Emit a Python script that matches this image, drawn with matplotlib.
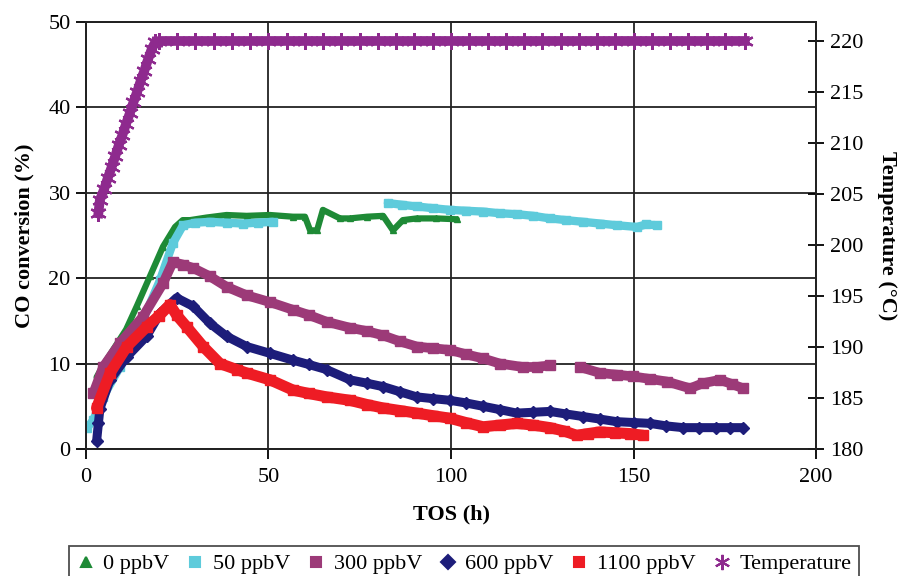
import numpy as np
import matplotlib.pyplot as plt
from matplotlib.lines import Line2D

plt.rcParams['font.family'] = ['Liberation Serif', 'DejaVu Serif']

# ---- data: TOS (h) and CO conversion (%) ----
tos_0 = [2.9, 5.0, 8.0, 11.0, 14.0, 17.5, 21.1, 24.4, 26.5, 28.5, 33.0, 38.5, 44.0, 50.4,
         56.7, 60.0, 61.4, 63.3, 64.9, 69.6, 72.3, 77.0, 81.4, 84.1, 86.8, 90.6, 96.0, 101.6]
conv_0 = [8.4, 10.0, 12.0, 14.0, 16.8, 20.2, 23.7, 26.0, 26.8, 26.8, 27.1, 27.4, 27.3, 27.4,
          27.2, 27.2, 25.6, 25.6, 28.0, 27.0, 27.0, 27.2, 27.3, 25.6, 26.8, 27.0, 27.0, 26.9]

tos_50 = [0.2, 2.0, 4.7, 9.3, 14.8, 20.3, 23.8, 26.6, 30.0, 34.0, 38.5, 43.0, 47.0, 51.2,
          np.nan,
          82.7, 86.5, 90.6, 95.0, 99.7, 104.0, 108.8, 113.5, 118.0, 122.5, 127.1, 131.5,
          136.2, 140.8, 145.4, 150.9, 153.5, 156.3]
conv_50 = [2.4, 3.4, 6.1, 9.6, 14.3, 19.8, 24.1, 26.2, 26.5, 26.6, 26.5, 26.4, 26.5, 26.6,
           np.nan,
           28.8, 28.6, 28.4, 28.2, 28.0, 27.9, 27.8, 27.6, 27.5, 27.3, 27.0, 26.8,
           26.6, 26.4, 26.2, 26.0, 26.3, 26.2]

tos_300 = [2.0, 4.7, 9.3, 15.6, 21.1, 23.8, 26.5, 29.3, 34.0, 38.5, 44.0, 50.4, 56.7, 61.0,
           65.9, 72.3, 77.0, 81.4, 86.0, 90.6, 95.0, 99.7, 104.0, 108.8, 113.4, 119.7, 123.5,
           127.1, np.nan, 135.3, 140.8, 145.5, 149.9, 154.5, 159.1, 165.5, 169.0, 173.7, 177.0, 180.0]
conv_300 = [6.5, 9.6, 12.4, 15.5, 19.4, 21.9, 21.6, 21.2, 20.2, 19.0, 18.0, 17.2, 16.3, 15.7,
            14.9, 14.2, 13.8, 13.3, 12.6, 12.0, 11.8, 11.6, 11.1, 10.6, 10.0, 9.6, 9.6,
            9.8, np.nan, 9.6, 8.9, 8.7, 8.5, 8.2, 7.9, 7.1, 7.7, 8.1, 7.6, 7.1]

tos_600 = [2.9, 3.4, 3.8, 6.6, 11.2, 16.6, 20.3, 24.8, 29.4, 34.0, 38.5, 44.0, 50.4, 56.7,
           61.0, 65.9, 72.3, 77.0, 81.4, 86.0, 90.6, 95.0, 99.7, 104.0, 108.8, 113.5, 118.0,
           122.5, 127.1, 131.5, 136.2, 140.8, 145.4, 150.0, 154.5, 159.0, 163.6, 168.0, 172.6,
           176.5, 180.0]
conv_600 = [0.9, 3.0, 4.7, 8.1, 10.8, 13.2, 15.9, 17.7, 16.7, 14.7, 13.2, 12.0, 11.2, 10.4,
            9.9, 9.3, 8.1, 7.7, 7.3, 6.7, 6.1, 5.9, 5.7, 5.4, 5.0, 4.6, 4.2,
            4.3, 4.4, 4.1, 3.8, 3.5, 3.2, 3.1, 3.0, 2.7, 2.5, 2.5, 2.5,
            2.5, 2.5]

tos_1100 = [2.9, 6.6, 11.2, 16.6, 20.0, 23.0, 24.8, 27.6, 32.1, 36.7, 41.3, 44.0, 50.4, 56.7,
            61.0, 65.9, 72.3, 77.0, 81.4, 86.0, 90.6, 95.0, 99.7, 104.0, 108.8, 113.5, 118.0,
            122.5, 127.1, 131.0, 134.4, 137.5, 140.8, 145.0, 149.0, 152.6]
conv_1100 = [4.8, 8.9, 12.0, 14.3, 15.6, 16.9, 15.7, 14.3, 12.0, 10.0, 9.3, 8.9, 8.1, 6.9,
             6.5, 6.1, 5.7, 5.2, 4.8, 4.5, 4.2, 3.9, 3.6, 3.1, 2.6, 2.8, 3.0,
             2.8, 2.5, 2.1, 1.6, 1.8, 2.0, 1.9, 1.8, 1.6]

# temperature (deg C), right axis
tos_temp = [3.4, 3.8, 5, 6, 7, 8, 9, 10, 11, 12, 13, 14, 15, 16, 17, 18, 19, 20,
            25, 30, 35, 40, 45, 50, 55, 60, 65, 70, 75, 80, 85, 90, 95, 100, 105, 110,
            115, 120, 125, 130, 135, 140, 145, 150, 155, 160, 165, 170, 175, 180.5]
temp = [203.1, 204.4, 205.5, 206.6, 207.6, 208.7, 209.8, 210.8, 211.9, 212.9, 214.0,
        215.0, 216.1, 217.1, 218.2, 219.2, 219.9, 220.0,
        220, 220, 220, 220, 220, 220, 220, 220, 220, 220, 220, 220, 220, 220, 220, 220,
        220, 220, 220, 220, 220, 220, 220, 220, 220, 220, 220, 220, 220, 220, 220, 220]

labels = ['0 ppbV', '50 ppbV', '300 ppbV', '600 ppbV', '1100 ppbV', 'Temperature']
colors = ['#1e8a36', '#5ecbdb', '#9c3a78', '#1d1d7a', '#ee1c24', '#8e2a8e']
markers = ['^', 's', 's', 'D', 's', (6, 2, 0)]

fig = plt.figure(figsize=(9.09, 5.76), dpi=100)
ax = fig.add_axes([0.0946, 0.2205, 0.8031, 0.7413])
ax2 = ax.twinx()

# (x, y, line width, marker size)
series = [(tos_0, conv_0, 4.5, 5), (tos_50, conv_50, 6, 6), (tos_300, conv_300, 7, 6.5),
          (tos_600, conv_600, 6.5, 6.5), (tos_1100, conv_1100, 8, 7)]
for (t, c, lw, ms), col, mk in zip(series, colors[:5], markers[:5]):
    ax.plot(t, c, color=col, lw=lw, marker=mk, ms=ms, mec=col, solid_capstyle='round',
            solid_joinstyle='round')

ax2.plot(tos_temp, temp, color=colors[5], lw=7, marker=markers[5], ms=12, mew=1.6,
         mec=colors[5])

ax.set_xlim(0, 200)
ax.set_ylim(0, 50)
ax.set_xticks([0, 50, 100, 150, 200])
ax.set_yticks([0, 10, 20, 30, 40, 50])
ax2.set_ylim(180, 221.86)
ax2.set_yticks(np.arange(180, 221, 5))

ax.grid(True, color='#222222', lw=1.3)
ax.set_axisbelow(True)
for a in (ax, ax2):
    for s in a.spines.values():
        s.set_color('#222222')
        s.set_linewidth(1.3)

ax.tick_params(axis='both', labelsize=16, length=7, width=1.3, direction='out', pad=4)
ax.tick_params(axis='x', pad=7)
ax2.tick_params(axis='y', labelsize=16, length=12, width=1.3, direction='inout', pad=4)

ax.set_xlabel('TOS (h)', fontsize=16, fontweight='bold', labelpad=12)
ax.set_ylabel('CO conversion (%)', fontsize=16, fontweight='bold', labelpad=10)
ax2.set_ylabel('Temperature (\u00b0C)', fontsize=16, fontweight='bold', rotation=270,
               labelpad=24)

handles = [Line2D([], [], ls='none', marker=m, color=c, mec=c, ms=7 if i < 5 else 11,
                  mew=1.5) for i, (m, c) in enumerate(zip(markers, colors))]
leg = fig.legend(handles, labels, loc='upper center', bbox_to_anchor=(0.5105, 0.0712),
                 ncol=6, fontsize=16, frameon=True, fancybox=False, edgecolor='#222222',
                 handlelength=0.8, handletextpad=0.4, columnspacing=0.75, borderpad=0.35)
leg.get_frame().set_linewidth(1.3)

fig.savefig('out.png', dpi=100)
